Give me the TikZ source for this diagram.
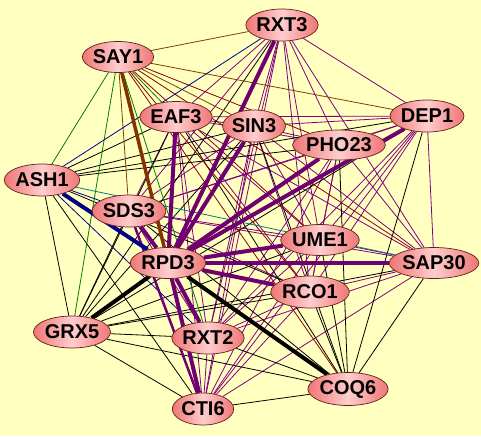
\documentclass[tikz,border=0pt]{standalone}
\usepackage{fontspec}
\setmainfont{Liberation Sans}
\usetikzlibrary{shapes.geometric}
\pgfdeclarelayer{edgelayer}
\pgfsetlayers{edgelayer,main}
\definecolor{bgy}{RGB}{255,255,192}
\definecolor{pur}{RGB}{128,0,128}
\definecolor{dpur}{RGB}{112,0,112}
\definecolor{brn}{RGB}{128,64,0}
\definecolor{dred}{RGB}{139,0,0}
\definecolor{grn}{RGB}{0,128,0}
\definecolor{nvy}{RGB}{0,0,139}
\definecolor{tea}{RGB}{0,128,128}
\definecolor{nodeedge}{RGB}{96,32,32}
\definecolor{nodedark}{RGB}{240,118,118}
\definecolor{nodelight}{RGB}{255,205,205}
\begin{document}
\begin{tikzpicture}[x=1pt,y=-1pt,
  gene/.style={ellipse, draw=nodeedge, line width=0.7pt, inner sep=0pt,
    left color=nodedark, right color=nodedark, middle color=nodelight,
    font=\fontsize{20}{22}\selectfont\bfseries},
  pe/.style={draw=pur, line width=0.8pt},
  pthick/.style={draw=dpur, line width=4pt},
  pmed/.style={draw=dpur, line width=2.5pt},
  ke/.style={draw=black, line width=0.8pt},
  kthick/.style={draw=black, line width=4pt},
  bre/.style={draw=brn, line width=0.8pt},
  dre/.style={draw=dred, line width=0.8pt},
  ge/.style={draw=grn, line width=0.8pt},
  ne/.style={draw=nvy, line width=0.8pt},
  te/.style={draw=tea, line width=0.8pt}]
\useasboundingbox (0,0) rectangle (481,436);
% nodes
\node[gene, minimum width=62pt, minimum height=32pt] (RXT3) at (282,25) {RXT3};
\node[gene, minimum width=61pt, minimum height=31pt] (SAY1) at (118,57) {SAY1};
\node[gene, minimum width=60pt, minimum height=31pt] (EAF3) at (176,117) {EAF3};
\node[gene, minimum width=54pt, minimum height=32pt] (SIN3) at (254,126) {SIN3};
\node[gene, minimum width=76pt, minimum height=30pt] (PHO23) at (339,145) {PHO23};
\node[gene, minimum width=61pt, minimum height=32pt] (DEP1) at (427,116) {DEP1};
\node[gene, minimum width=63pt, minimum height=32pt] (ASH1) at (42,180) {ASH1};
\node[gene, minimum width=63pt, minimum height=32pt] (SDS3) at (129,211) {SDS3};
\node[gene, minimum width=63pt, minimum height=31pt] (RPD3) at (168,263) {RPD3};
\node[gene, minimum width=66pt, minimum height=31pt] (UME1) at (320,240) {UME1};
\node[gene, minimum width=72pt, minimum height=31pt] (SAP30) at (434,263) {SAP30};
\node[gene, minimum width=67pt, minimum height=32pt] (RCO1) at (310,292) {RCO1};
\node[gene, minimum width=65pt, minimum height=32pt] (GRX5) at (72,332) {GRX5};
\node[gene, minimum width=62pt, minimum height=32pt] (RXT2) at (208,338) {RXT2};
\node[gene, minimum width=55pt, minimum height=32pt] (CTI6) at (203,409) {CTI6};
\node[gene, minimum width=69pt, minimum height=33pt] (COQ6) at (348,389) {COQ6};
% edges
\begin{pgfonlayer}{edgelayer}
\fill[bgy] (0,0) rectangle (481,436);
% thin purple
\foreach \a/\b in {SIN3/UME1, SIN3/SAP30, SIN3/DEP1, SIN3/PHO23, SIN3/RXT2, SIN3/RXT3, SIN3/CTI6, SIN3/SDS3, SIN3/RCO1, SIN3/EAF3,
  UME1/SAP30, UME1/DEP1, UME1/PHO23, UME1/RXT2, UME1/RXT3, UME1/CTI6, UME1/SDS3, UME1/RCO1, UME1/EAF3,
  SAP30/DEP1, SAP30/PHO23, SAP30/RXT2, SAP30/RXT3, SAP30/CTI6, SAP30/SDS3, SAP30/RCO1, SAP30/EAF3,
  DEP1/PHO23, DEP1/RXT2, DEP1/RXT3, DEP1/CTI6, DEP1/SDS3, DEP1/RCO1, DEP1/EAF3,
  PHO23/RXT2, PHO23/RXT3, PHO23/CTI6, PHO23/SDS3, PHO23/RCO1, PHO23/EAF3,
  RXT2/RXT3, RXT2/CTI6, RXT2/SDS3, RXT2/RCO1, RXT2/EAF3,
  RXT3/CTI6, RXT3/SDS3, RXT3/RCO1, RXT3/EAF3,
  CTI6/RCO1, CTI6/EAF3, SDS3/RCO1, SDS3/EAF3, RCO1/EAF3}
  \draw[pe] (\a) -- (\b);
% thin black
\foreach \a/\b in {GRX5/ASH1, GRX5/SDS3, GRX5/EAF3, GRX5/SIN3, GRX5/PHO23, GRX5/DEP1, GRX5/UME1, GRX5/SAP30, GRX5/RCO1, GRX5/RXT2, GRX5/CTI6, GRX5/COQ6, GRX5/RXT3,
  COQ6/CTI6, COQ6/RXT2, COQ6/RCO1, COQ6/UME1, COQ6/SAP30, COQ6/DEP1, COQ6/PHO23, COQ6/SIN3, COQ6/EAF3, COQ6/SDS3,
  ASH1/SIN3, ASH1/PHO23, ASH1/DEP1, ASH1/EAF3, ASH1/CTI6, ASH1/RCO1}
  \draw[ke] (\a) -- (\b);
% SAY1 edges
\foreach \a/\b in {SAY1/RXT3, SAY1/DEP1, SAY1/SDS3, SAY1/SIN3}
  \draw[bre] (\a) -- (\b);
\foreach \a/\b in {SAY1/PHO23, SAY1/UME1, SAY1/SAP30, SAY1/RCO1, SAY1/COQ6}
  \draw[dre] (\a) -- (\b);
\foreach \a/\b in {SAY1/ASH1, SAY1/GRX5, SAY1/RXT2, SAY1/EAF3}
  \draw[ge] (\a) -- (\b);
% ASH1 coloured
\foreach \a/\b in {ASH1/RXT3, ASH1/SDS3, ASH1/RXT2}
  \draw[ne] (\a) -- (\b);
\draw[te] (ASH1) -- (SAP30);
% thick
\draw[pmed] (SDS3) -- (CTI6);
\foreach \b in {SIN3, RXT3, EAF3, PHO23, DEP1, UME1, SAP30, RCO1, RXT2, CTI6, SDS3}
  \draw[pthick] (RPD3) -- (\b);
\draw[kthick] (RPD3) -- (GRX5);
\draw[kthick] (RPD3) -- (COQ6);
\draw[draw=nvy, line width=4pt] (RPD3) -- (ASH1);
\draw[draw=brn!80!dred, line width=3.5pt] (RPD3) -- (SAY1);
\end{pgfonlayer}
\end{tikzpicture}
\end{document}
